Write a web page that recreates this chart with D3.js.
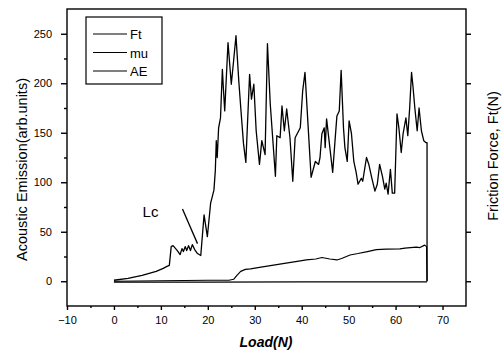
<!DOCTYPE html>
<html>
<head>
<meta charset="utf-8">
<script src="https://cdn.jsdelivr.net/npm/d3@7"></script>
<style>
  body { margin: 0; background: #fff; }
  svg { display: block; font-family: "Liberation Sans", Arial, sans-serif; }
  .axis path, .axis line { stroke: #000; stroke-width: 1.4; }
  .axis text { fill: #000; }
</style>
</head>
<body>
<div id="chart"></div>
<script>
// acoustic emission, [load N, AE]
const aeData = [
  [0, 1], [3, 3], [6, 6], [9, 10], [10.5, 13], [11.3, 15], [11.8, 16], [12.2, 35], [12.6, 36],
  [13.5, 31], [14.1, 27], [14.5, 33], [14.8, 30], [15.2, 35], [15.5, 31], [15.9, 36], [16.3, 31],
  [16.7, 37], [17.2, 32], [17.8, 28], [18.5, 26], [19.2, 67], [19.9, 45], [20.6, 79], [21.3, 92],
  [21.6, 112], [21.8, 142], [22.0, 125], [22.3, 155], [22.7, 165], [23.1, 214], [23.3, 196],
  [23.6, 172], [24.3, 241], [25.0, 199], [25.5, 223], [26.0, 248], [26.6, 202], [27.1, 170],
  [27.6, 139], [28.1, 120], [28.9, 209], [29.3, 184], [29.8, 199], [30.3, 152], [31.0, 118],
  [31.5, 142], [32.2, 128], [32.7, 240], [33.3, 179], [34.4, 106], [34.7, 147], [35.4, 145],
  [35.8, 177], [36.3, 152], [36.8, 174], [37.5, 145], [38.1, 101], [38.6, 145], [39.7, 155],
  [40.2, 192], [40.7, 211], [41.3, 162], [42.0, 105], [42.9, 121], [43.6, 118], [43.9, 125],
  [44.3, 149], [44.8, 155], [45.0, 135], [45.3, 164], [45.9, 139], [46.6, 110], [47.1, 142],
  [47.5, 167], [48.0, 172], [48.4, 213], [48.9, 155], [49.2, 135], [49.7, 121], [50.1, 162],
  [50.6, 149], [51.1, 121], [51.6, 110], [52.0, 98], [52.7, 104], [53.0, 101], [53.8, 125],
  [54.3, 118], [54.9, 105], [55.6, 91], [56.1, 98], [56.6, 118], [57.2, 106], [57.7, 93],
  [58.0, 99], [58.4, 88], [58.9, 113], [59.3, 89], [59.8, 89], [60.0, 121], [60.3, 169],
  [60.7, 155], [61.2, 130], [61.6, 149], [62.2, 165], [62.6, 147], [63.0, 175], [63.4, 211],
  [63.7, 197], [64.1, 175], [64.6, 152], [65.0, 175], [65.5, 152], [66.0, 142], [66.5, 140],
  [66.7, 140], [66.7, 0]
];
// friction force
const ftData = [
  [0, 0], [10, 0.5], [20, 1], [24.5, 1], [25.5, 2], [26.2, 6], [27, 10], [28, 12], [29.1, 12.5],
  [31, 14], [33, 15.5], [35, 17], [37, 18.5], [39.7, 20.5], [41, 21.5], [43, 22.5], [44.3, 24],
  [46, 22.5], [47.5, 21.5], [48.5, 23], [50.3, 26.5], [52, 28], [54, 30], [55.9, 32], [58, 32.5],
  [60.9, 32.7], [62, 33.5], [64.4, 34.4], [65.2, 34], [66.2, 36.5], [66.6, 35], [66.7, 0]
];
// friction coefficient
const muData = [[0, -0.8], [20, -0.8], [40, -0.6], [66.7, -0.6]];

const seriesNames = ['Ft', 'mu', 'AE'];
const xTicks = [-10, 0, 10, 20, 30, 40, 50, 60, 70];
const yTicks = [0, 50, 100, 150, 200, 250];
const lcArrow = [[14.6, 73], [17.8, 38]];

const width = 503, height = 351;
const svg = d3.select('#chart').append('svg')
    .attr('width', width)
    .attr('height', height);

const x = d3.scaleLinear().domain([-10, 75]).range([67, 466]);
const y = d3.scaleLinear().domain([-25, 275]).range([306, 9]);

const line = d3.line()
    .x(d => x(d[0]))
    .y(d => y(d[1]));

// curves
const curves = svg.append('g').attr('fill', 'none').attr('stroke', '#000').attr('stroke-linejoin', 'round');
curves.append('path').datum(muData).attr('d', line).attr('stroke-width', 1.2);
curves.append('path').datum(ftData).attr('d', line).attr('stroke-width', 1.2);
curves.append('path').datum(aeData).attr('d', line).attr('stroke-width', 1.3);

// frame
svg.append('rect')
    .attr('x', x(-10)).attr('y', y(275))
    .attr('width', x(75) - x(-10)).attr('height', y(-25) - y(275))
    .attr('fill', 'none').attr('stroke', '#000').attr('stroke-width', 1.4);

// minor ticks
const xMinor = d3.range(-5, 75, 10);
const yMinor = d3.range(-25, 275, 50);

const xAxis = svg.append('g').attr('class', 'axis')
    .attr('transform', `translate(0,${y(-25)})`)
    .call(d3.axisBottom(x).tickValues(xTicks).tickSize(4).tickPadding(6).tickFormat(d3.format('d')));
xAxis.selectAll('text').attr('font-size', 11);
svg.append('g').attr('class', 'axis')
    .attr('transform', `translate(0,${y(-25)})`)
    .call(d3.axisBottom(x).tickValues(xMinor).tickSize(2).tickFormat(''));

const yAxis = svg.append('g').attr('class', 'axis')
    .attr('transform', `translate(${x(-10)},0)`)
    .call(d3.axisLeft(y).tickValues(yTicks).tickSize(6).tickPadding(9));
yAxis.selectAll('text').attr('font-size', 11).style('font-family', '"Liberation Sans Narrow", "Arial Narrow", "Liberation Sans", sans-serif');
svg.append('g').attr('class', 'axis')
    .attr('transform', `translate(${x(-10)},0)`)
    .call(d3.axisLeft(y).tickValues(yMinor.filter(v => v > -25)).tickSize(3).tickFormat(''));

svg.append('g').attr('class', 'axis')
    .attr('transform', `translate(${x(75)},0)`)
    .call(d3.axisRight(y).tickValues(yTicks).tickSize(5).tickFormat(''));
svg.selectAll('.axis .domain').remove();

// axis titles
svg.append('text')
    .attr('transform', `translate(27,${(y(275) + y(-25)) / 2 + 12}) rotate(-90)`)
    .attr('text-anchor', 'middle')
    .attr('font-size', 14.5)
    .text('Acoustic Emission(arb.units)');
svg.append('text')
    .attr('transform', `translate(498,156) rotate(-90)`)
    .attr('text-anchor', 'middle')
    .attr('font-size', 14.5)
    .text('Friction Force, Ft(N)');
svg.append('text')
    .attr('x', 266).attr('y', 347)
    .attr('text-anchor', 'middle')
    .attr('font-size', 14)
    .attr('font-weight', 'bold')
    .attr('font-style', 'italic')
    .text('Load(N)');

// Lc annotation
svg.append('text')
    .attr('x', x(6.1)).attr('y', y(65))
    .attr('font-size', 15)
    .text('Lc');
svg.append('path')
    .datum(lcArrow)
    .attr('d', line)
    .attr('stroke', '#000').attr('stroke-width', 1.3).attr('fill', 'none');

// legend
const legend = svg.append('g').attr('transform', 'translate(86,17)');
legend.append('rect')
    .attr('width', 76).attr('height', 67)
    .attr('fill', '#fff').attr('stroke', '#000').attr('stroke-width', 1.2);
const items = legend.selectAll('g.item')
    .data(seriesNames)
    .enter().append('g')
    .attr('class', 'item')
    .attr('transform', (d, i) => `translate(0,${17 + i * 18.5})`);
items.append('line')
    .attr('x1', 7).attr('x2', 41)
    .attr('stroke', '#000').attr('stroke-width', 1.2);
items.append('text')
    .attr('x', 44).attr('y', 5)
    .attr('font-size', 13)
    .text(d => d);
</script>
</body>
</html>
